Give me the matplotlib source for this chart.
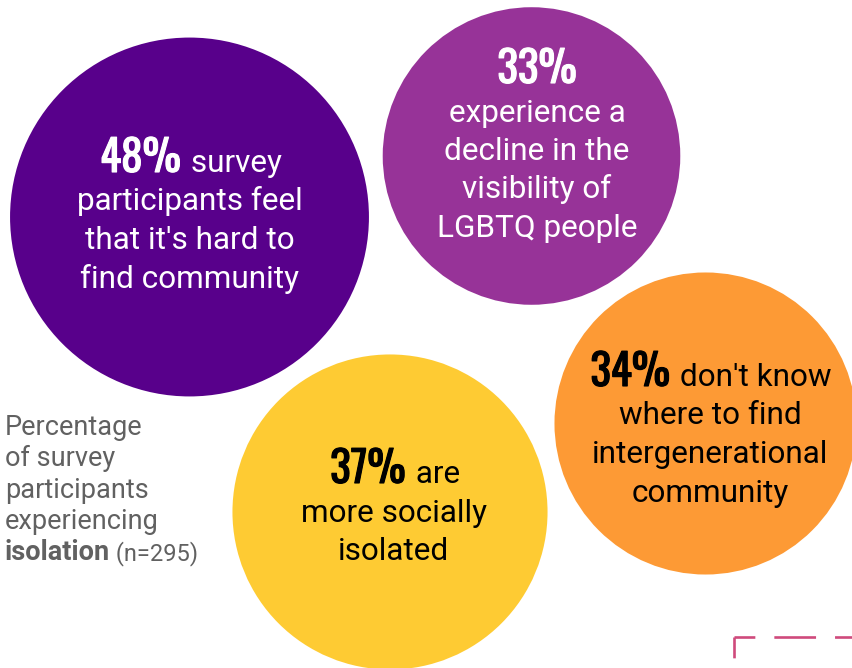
import matplotlib
matplotlib.use("Agg")
import matplotlib.pyplot as plt
import matplotlib.patheffects as pe
from matplotlib.patches import Circle

# Survey results: share of participants experiencing each form of isolation
values = [48, 33, 37, 34]
lead_words = ["survey", "", "are", "don't know"]
body_lines = [
    ["participants feel", "that it's hard to", "find community"],
    ["experience a", "decline in the", "visibility of", "LGBTQ people"],
    ["more socially", "isolated"],
    ["where to find", "intergenerational", "community"],
]
fill_colors = ["#58008b", "#973398", "#fecb33", "#fd9a35"]
text_colors = ["white", "white", "black", "black"]

note_lines = ["Percentage", "of survey", "participants", "experiencing"]
note_bold = "isolation"
note_tail = " (n=295)"

# Layout of the bubbles (pixel space, y downwards)
centers = [(189.5, 217.0), (531.5, 156.0), (390.0, 512.0), (705.5, 423.5)]
text_x = [190, 537, 394, 710]
first_baseline = [172, 83, 483, 386]
line_step = 38.5
radius_per_sqrt = 25.9

BODY_FONT = ["Roboto", "DejaVu Sans"]
PCT_FONT = ["Oswald", "Roboto Condensed", "Open Sans Condensed",
            "Liberation Sans Narrow", "DejaVu Sans"]
BODY_SIZE = 22.7
PCT_SIZE = 31

W, H = 853, 668
fig = plt.figure(figsize=(W / 100, H / 100), dpi=100)
ax = fig.add_axes([0, 0, 1, 1])
ax.set_xlim(0, W)
ax.set_ylim(H, 0)
ax.axis("off")

for v, (cx, cy), fc in zip(values, centers, fill_colors):
    ax.add_patch(Circle((cx, cy), radius_per_sqrt * v ** 0.5, facecolor=fc,
                        edgecolor="none", zorder=1))

renderer = fig.canvas.get_renderer()


def width_of(t):
    bb = t.get_window_extent(renderer=renderer)
    return bb.width  # pixels == data units here


for v, lead, lines, tc, tx, y0 in zip(values, lead_words, body_lines,
                                      text_colors, text_x, first_baseline):
    pct = ax.text(0, y0, f"{v}%", fontfamily=PCT_FONT, fontweight="bold",
                  fontstretch="condensed", fontsize=PCT_SIZE, color=tc,
                  va="baseline", ha="left", zorder=3,
                  path_effects=[pe.withStroke(linewidth=0.8, foreground=tc)])
    if lead:
        rest = ax.text(0, y0, " " + lead, fontfamily=BODY_FONT,
                       fontsize=BODY_SIZE, color=tc, va="baseline",
                       ha="left", zorder=3)
        w1, w2 = width_of(pct), width_of(rest)
        x_start = tx - (w1 + w2) / 2
        pct.set_x(x_start)
        rest.set_x(x_start + w1 + 2)
    else:
        pct.set_ha("center")
        pct.set_x(tx)
    for i, line in enumerate(lines):
        ax.text(tx, y0 + line_step * (i + 1), line, fontfamily=BODY_FONT,
                fontsize=BODY_SIZE, color=tc, va="baseline", ha="center",
                zorder=3)

# Explanatory note at the left
note_color = "#616161"
note_x, note_y0, note_step = 5, 435, 31.3
note_size = 19.5
for i, line in enumerate(note_lines):
    ax.text(note_x, note_y0 + note_step * i, line, fontfamily=BODY_FONT,
            fontsize=note_size, color=note_color, va="baseline", ha="left")
bold_note = ax.text(note_x, note_y0 + note_step * len(note_lines), note_bold,
                    fontfamily=BODY_FONT, fontsize=note_size, fontweight="bold",
                    color=note_color, va="baseline", ha="left")
ax.annotate(note_tail, xy=(1, 0), xycoords=bold_note, va="bottom", ha="left",
            fontfamily=BODY_FONT, fontsize=17, color=note_color)

# Dashed frame corner peeking in at the bottom right
dash = (7.9, (15.8, 7.2))
corner = (734, 637)
ax.plot([corner[0], W + 10], [corner[1], corner[1]], color="#cf4a7c", lw=1.9,
        linestyle=dash, solid_capstyle="butt", dash_capstyle="butt")
ax.plot([corner[0], corner[0]], [corner[1], H + 10], color="#cf4a7c", lw=1.9,
        linestyle=dash, solid_capstyle="butt", dash_capstyle="butt")

fig.savefig("out.png", dpi=100, facecolor="white")
